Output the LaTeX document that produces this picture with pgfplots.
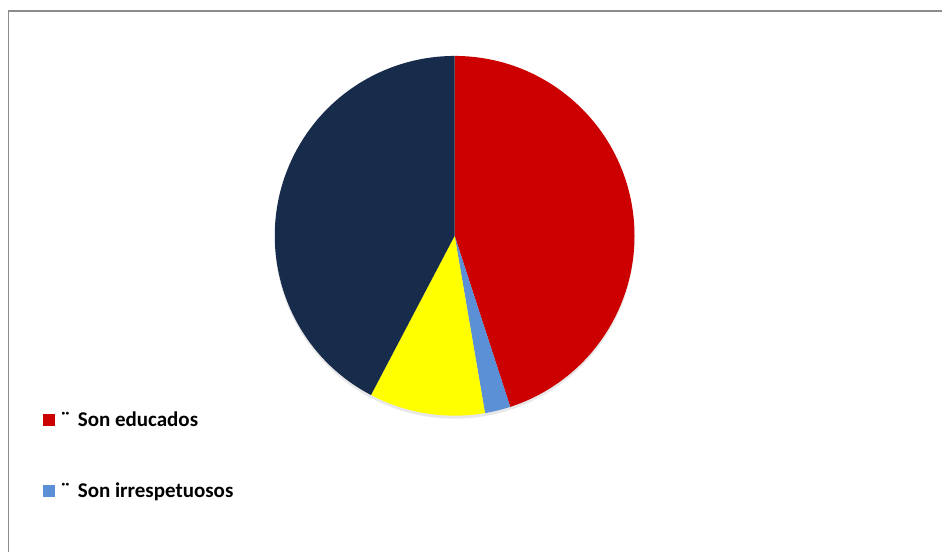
\documentclass[border=0pt]{standalone}
\usepackage{fontspec}
\setmainfont{Carlito}
\usepackage{pgfplots}
\usepackage{pgfplotstable}
\pgfplotsset{compat=1.18}
\definecolor{pred}{HTML}{CC0000}
\definecolor{pblue}{HTML}{5B8FD6}
\definecolor{pyellow}{HTML}{FFFF00}
\definecolor{pnavy}{HTML}{172B4B}
\definecolor{frame}{HTML}{8C8C8C}
\pgfplotstableread{
label value
educados 45.0
irrespetuosos 2.3
amarillo 10.4
azul 42.3
}\piedata
\begin{document}
\begin{tikzpicture}
\pgfplotstablegetelem{0}{value}\of\piedata\let\va\pgfplotsretval
\pgfplotstablegetelem{1}{value}\of\piedata\let\vb\pgfplotsretval
\pgfplotstablegetelem{2}{value}\of\piedata\let\vc\pgfplotsretval
\pgfplotstablegetelem{3}{value}\of\piedata\let\vd\pgfplotsretval
\pgfmathsetmacro\aA{90}
\pgfmathsetmacro\aB{\aA-3.6*\va}
\pgfmathsetmacro\aC{\aB-3.6*\vb}
\pgfmathsetmacro\aD{\aC-3.6*\vc}
\pgfmathsetmacro\aE{\aD-3.6*\vd}
\begin{axis}[scale only axis, width=943pt, height=552pt,
  xmin=0, xmax=943, ymin=0, ymax=552, hide axis, clip=false]
\path (axis cs:0,0) rectangle (axis cs:943,552);
\draw[frame, line width=1.5pt] (axis cs:8.5,0) -- (axis cs:8.5,541) -- (axis cs:943,541);
% shadow
\fill[black!9] (axis cs:455,313) circle[radius=180pt];
\fill[pred] (axis cs:455,316) -- ++(\aA:180pt) arc[start angle=\aA, end angle=\aB, radius=180pt] -- cycle;
\fill[pblue] (axis cs:455,316) -- ++(\aB:180pt) arc[start angle=\aB, end angle=\aC, radius=180pt] -- cycle;
\fill[pyellow] (axis cs:455,316) -- ++(\aC:180pt) arc[start angle=\aC, end angle=\aD, radius=180pt] -- cycle;
\fill[pnavy] (axis cs:455,316) -- ++(\aD:180pt) arc[start angle=\aD, end angle=\aE, radius=180pt] -- cycle;
% legend
\fill[pred] (axis cs:43,126) rectangle (axis cs:55,138);
\fill[pblue] (axis cs:43,55) rectangle (axis cs:55,67);
\node[anchor=base west, inner sep=0pt, font=\bfseries\fontsize{21}{24}\selectfont] at (axis cs:61,125) {¨\hspace{8pt}Son educados};
\node[anchor=base west, inner sep=0pt, font=\bfseries\fontsize{21}{24}\selectfont] at (axis cs:61,54) {¨\hspace{8pt}Son irrespetuosos};
\end{axis}
\end{tikzpicture}
\end{document}
